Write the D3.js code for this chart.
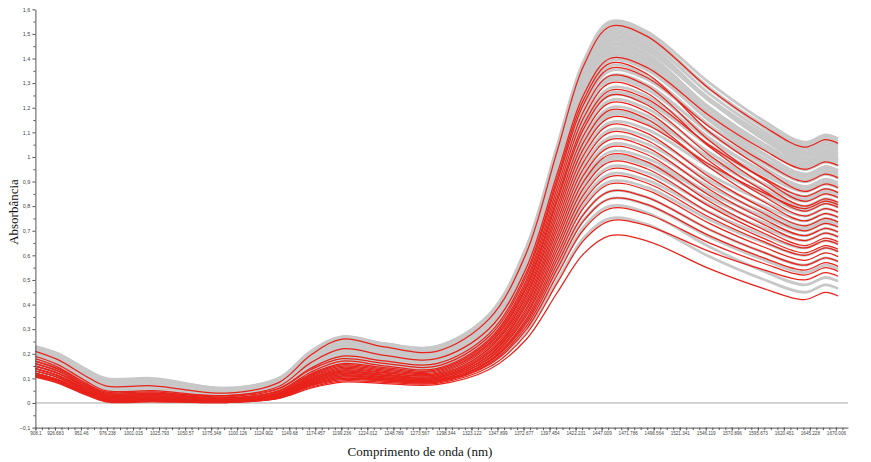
<!DOCTYPE html>
<html>
<head>
<meta charset="utf-8">
<script src="https://cdn.jsdelivr.net/npm/d3@7"></script>
<style>
  html, body { margin: 0; padding: 0; background: #fff; }
  svg { display: block; }
</style>
</head>
<body>
<div id="chart"></div>
<script>
const wavelengths = [908, 930, 955, 975, 1020, 1090, 1140, 1170, 1200, 1240, 1290, 1340, 1375, 1405, 1430, 1455, 1490, 1550, 1600, 1640, 1660, 1672];

// gray spectra (calibration set)
const graySpectra = [
  [.23,.20,.14,.10,.10,.06,.10,.21,.27,.24,.23,.36,.63,1.05,1.39,1.55,1.51,1.30,1.15,1.06,1.09,1.075],
  [.225,.193,.134,.095,.095,.058,.10,.205,.268,.242,.228,.359,.622,1.041,1.383,1.54,1.499,1.275,1.122,1.03,1.06,1.045],
  [.22,.19,.13,.09,.09,.055,.096,.20,.26,.234,.22,.35,.61,1.03,1.37,1.53,1.49,1.28,1.13,1.04,1.07,1.055],
  [.215,.184,.128,.09,.09,.052,.093,.194,.255,.229,.215,.346,.607,1.024,1.363,1.52,1.482,1.276,1.135,1.05,1.08,1.065],
  [.21,.18,.12,.085,.085,.05,.09,.19,.25,.224,.21,.34,.60,1.02,1.35,1.51,1.47,1.255,1.108,1.02,1.05,1.035],
  [.205,.174,.119,.082,.082,.048,.087,.186,.245,.219,.205,.335,.594,1.008,1.345,1.50,1.458,1.23,1.074,.98,1.01,.995],
  [.22,.189,.133,.095,.095,.06,.101,.204,.265,.239,.225,.35,.605,1.01,1.34,1.49,1.45,1.23,1.08,.99,1.02,1.005],
  [.195,.166,.113,.078,.078,.046,.084,.18,.238,.212,.198,.326,.583,.993,1.326,1.48,1.442,1.236,1.095,1.01,1.04,1.025],
  [.20,.17,.116,.08,.08,.05,.088,.183,.24,.214,.20,.327,.581,.987,1.318,1.47,1.432,1.226,1.085,1.00,1.03,1.015],
  [.20,.17,.116,.08,.08,.05,.088,.183,.24,.214,.20,.326,.578,.981,1.309,1.46,1.419,1.195,1.042,.95,.98,.965],
  [.21,.179,.123,.085,.085,.05,.09,.19,.25,.221,.205,.33,.579,.977,1.301,1.45,1.412,1.20,1.056,.97,1.00,.985],
  [.185,.156,.105,.07,.07,.043,.08,.173,.228,.203,.19,.315,.565,.965,1.29,1.44,1.402,1.196,1.055,.97,1.00,.985],
  [.19,.16,.106,.07,.07,.045,.082,.175,.23,.204,.19,.314,.562,.959,1.281,1.43,1.392,1.18,1.036,.95,.98,.965],
  [.18,.152,.102,.068,.068,.04,.076,.167,.222,.198,.185,.309,.556,.951,1.272,1.42,1.381,1.165,1.018,.93,.96,.945],
  [.20,.17,.116,.08,.08,.05,.089,.187,.245,.216,.20,.321,.563,.95,1.265,1.41,1.374,1.176,1.041,.96,.99,.975],
  [.175,.148,.098,.065,.065,.04,.075,.163,.215,.192,.18,.302,.546,.936,1.254,1.40,1.361,1.145,.998,.91,.94,.925],
  [.18,.151,.10,.065,.065,.04,.076,.166,.22,.194,.18,.301,.543,.93,1.245,1.39,1.353,1.151,1.013,.93,.96,.945],
  [.19,.161,.11,.075,.075,.045,.082,.175,.23,.201,.185,.304,.541,.92,1.228,1.37,1.332,1.126,.985,.90,.93,.915],
  [.17,.143,.093,.06,.06,.035,.07,.158,.21,.184,.17,.288,.524,.902,1.208,1.35,1.316,1.126,.997,.92,.95,.935],
  [.18,.153,.103,.07,.07,.04,.075,.163,.215,.189,.175,.29,.522,.891,1.191,1.33,1.294,1.096,.961,.88,.91,.895],
  [.17,.143,.093,.06,.06,.036,.07,.156,.208,.185,.172,.287,.516,.884,1.182,1.32,1.286,1.102,.976,.90,.93,.915],
  [.17,.143,.093,.06,.06,.035,.068,.151,.20,.177,.165,.28,.509,.875,1.173,1.31,1.274,1.076,.941,.86,.89,.875],
  [.16,.134,.087,.055,.055,.03,.063,.146,.195,.172,.16,.272,.496,.854,1.146,1.28,1.247,1.067,.944,.87,.90,.885],
  [.17,.143,.093,.06,.06,.035,.066,.144,.19,.167,.155,.266,.487,.84,1.127,1.26,1.226,1.042,.916,.84,.87,.855],
  [.165,.138,.09,.058,.058,.034,.067,.15,.20,.177,.165,.274,.491,.838,1.12,1.25,1.219,1.047,.93,.86,.89,.875],
  [.16,.133,.083,.05,.05,.03,.061,.139,.185,.162,.15,.258,.474,.82,1.10,1.23,1.197,1.017,.894,.82,.85,.835],
  [.15,.124,.077,.045,.045,.025,.056,.134,.18,.157,.145,.25,.462,.799,1.073,1.20,1.168,.992,.872,.80,.83,.815],
  [.155,.129,.082,.05,.05,.03,.062,.142,.19,.167,.155,.258,.463,.791,1.057,1.18,1.152,.998,.893,.83,.86,.845],
  [.16,.133,.083,.05,.05,.03,.059,.132,.175,.152,.14,.243,.449,.779,1.046,1.17,1.139,.967,.85,.78,.81,.795],
  [.15,.124,.077,.045,.045,.025,.054,.127,.17,.151,.14,.24,.44,.76,1.02,1.14,1.112,.958,.853,.79,.82,.805],
  [.14,.115,.07,.04,.04,.02,.049,.122,.165,.146,.135,.233,.428,.74,.993,1.11,1.082,.928,.823,.76,.79,.775],
  [.15,.124,.077,.045,.045,.025,.052,.12,.16,.141,.13,.225,.415,.719,.966,1.08,1.053,.903,.801,.74,.77,.755],
  [.14,.115,.07,.04,.04,.02,.047,.115,.155,.136,.125,.218,.403,.699,.939,1.05,1.024,.878,.779,.72,.75,.735],
  [.13,.106,.064,.035,.035,.02,.046,.111,.15,.131,.12,.21,.39,.678,.912,1.02,.994,.854,.758,.70,.73,.715],
  [.145,.12,.075,.045,.045,.025,.055,.13,.175,.156,.145,.231,.402,.675,.897,1.00,.977,.849,.762,.71,.74,.725],
  [.14,.115,.07,.04,.04,.02,.045,.108,.145,.129,.12,.207,.381,.659,.886,.99,.965,.829,.736,.68,.71,.695],
  [.13,.106,.064,.035,.035,.015,.04,.103,.14,.124,.115,.20,.369,.639,.859,.96,.936,.804,.714,.66,.69,.675],
  [.12,.098,.057,.03,.03,.015,.039,.099,.135,.119,.11,.192,.356,.618,.832,.93,.906,.774,.684,.63,.66,.645],
  [.13,.106,.064,.035,.035,.015,.038,.096,.13,.114,.105,.185,.344,.598,.805,.90,.876,.744,.654,.60,.63,.615],
  [.12,.098,.057,.03,.03,.01,.033,.091,.125,.109,.10,.176,.328,.571,.769,.86,.836,.704,.614,.56,.59,.575],
  [.125,.101,.059,.03,.03,.015,.04,.103,.14,.124,.115,.187,.33,.558,.744,.83,.806,.674,.584,.53,.56,.545],
  [.12,.096,.054,.025,.025,.01,.032,.087,.12,.107,.10,.17,.31,.534,.716,.80,.774,.634,.538,.48,.51,.495],
  [.11,.088,.047,.02,.02,.01,.03,.08,.11,.10,.095,.16,.29,.50,.671,.75,.726,.594,.504,.45,.48,.465]
];

// red spectra (validation set)
const redSpectra = [
  [.21,.175,.112,.07,.07,.04,.084,.194,.26,.228,.21,.342,.606,1.028,1.372,1.53,1.491,1.275,1.128,1.04,1.07,1.055],
  [.19,.155,.092,.05,.05,.03,.068,.163,.22,.194,.18,.302,.546,.936,1.254,1.40,1.364,1.166,1.031,.95,.98,.965],
  [.17,.139,.083,.045,.045,.025,.058,.141,.19,.171,.16,.282,.526,.916,1.234,1.38,1.338,1.10,.954,.86,.89,.875],
  [.18,.145,.082,.04,.04,.03,.06,.135,.18,.161,.15,.271,.513,.90,1.215,1.36,1.323,1.121,.983,.90,.93,.915],
  [.16,.13,.076,.04,.04,.02,.05,.125,.17,.151,.14,.259,.497,.878,1.187,1.33,1.289,1.065,.912,.82,.85,.835],
  [.17,.136,.076,.035,.035,.02,.048,.118,.16,.144,.135,.252,.485,.857,1.16,1.30,1.26,1.04,.89,.80,.83,.815],
  [.15,.121,.07,.035,.035,.02,.047,.115,.155,.139,.13,.244,.472,.837,1.133,1.27,1.236,1.046,.917,.84,.87,.855],
  [.16,.128,.069,.03,.03,.015,.042,.11,.15,.134,.125,.238,.463,.823,1.115,1.25,1.212,1.006,.865,.78,.81,.795],
  [.15,.12,.066,.03,.03,.015,.041,.106,.145,.129,.12,.23,.45,.802,1.088,1.22,1.183,.981,.843,.76,.79,.775],
  [.14,.111,.06,.025,.025,.01,.036,.101,.14,.124,.115,.223,.438,.782,1.061,1.19,1.154,.956,.821,.74,.77,.755],
  [.15,.12,.066,.03,.03,.015,.039,.099,.135,.122,.115,.22,.429,.763,1.035,1.16,1.13,.968,.857,.79,.82,.805],
  [.14,.111,.06,.025,.025,.01,.034,.094,.13,.117,.11,.212,.416,.742,1.008,1.13,1.097,.917,.794,.72,.75,.735],
  [.13,.103,.053,.02,.02,.01,.034,.094,.13,.114,.105,.205,.404,.722,.981,1.10,1.068,.892,.772,.70,.73,.715],
  [.14,.11,.056,.02,.02,.01,.033,.091,.125,.112,.105,.202,.395,.703,.954,1.07,1.039,.867,.75,.68,.71,.695],
  [.13,.103,.053,.02,.02,.008,.03,.086,.12,.107,.10,.194,.382,.683,.927,1.04,1.01,.842,.728,.66,.69,.675],
  [.12,.094,.047,.015,.015,.008,.03,.086,.12,.107,.10,.191,.373,.664,.901,1.01,.98,.818,.707,.64,.67,.655],
  [.13,.103,.053,.02,.02,.01,.031,.084,.115,.102,.095,.184,.361,.644,.874,.98,.952,.798,.693,.63,.66,.645],
  [.12,.094,.047,.015,.015,.005,.026,.079,.11,.10,.095,.18,.352,.625,.847,.95,.923,.773,.671,.61,.64,.625],
  [.12,.094,.047,.015,.015,.005,.026,.079,.11,.097,.09,.173,.339,.605,.82,.92,.894,.754,.658,.60,.63,.615],
  [.11,.085,.04,.01,.01,.005,.025,.075,.105,.095,.09,.17,.33,.586,.794,.89,.865,.729,.636,.58,.61,.595],
  [.12,.093,.044,.012,.012,.005,.024,.072,.10,.094,.09,.167,.321,.567,.768,.86,.836,.704,.614,.56,.59,.575],
  [.11,.085,.04,.01,.01,.003,.022,.071,.10,.09,.085,.16,.309,.547,.741,.83,.807,.679,.592,.54,.57,.555],
  [.115,.089,.042,.01,.01,.003,.021,.068,.095,.089,.085,.156,.297,.522,.705,.79,.768,.65,.569,.52,.55,.535],
  [.11,.085,.039,.008,.008,.002,.02,.064,.09,.084,.08,.146,.278,.489,.661,.74,.721,.615,.543,.50,.53,.515],
  [.105,.08,.035,.005,.005,.002,.019,.06,.085,.079,.075,.136,.257,.45,.607,.68,.659,.545,.467,.42,.45,.435]
];

const xTickValues = [908.1, 926.683, 951.46, 976.238, 1001.015, 1025.793, 1050.57, 1075.348, 1100.126, 1124.902, 1149.68, 1174.457, 1199.236, 1224.012, 1248.789, 1273.567, 1298.344, 1323.122, 1347.899, 1372.677, 1397.454, 1422.231, 1447.009, 1471.786, 1496.564, 1521.341, 1546.119, 1570.896, 1595.673, 1620.451, 1645.228, 1670.006];
const yTickValues = [-0.1, 0, 0.1, 0.2, 0.3, 0.4, 0.5, 0.6, 0.7, 0.8, 0.9, 1, 1.1, 1.2, 1.3, 1.4, 1.5, 1.6];
const minorStep = 6.1944;   // spacing of the unlabeled x ticks

const W = 871, H = 462;
const svg = d3.select('#chart').append('svg').attr('width', W).attr('height', H);

const x = d3.scaleLinear().domain([908.1, 1681.5]).range([35.4, 848]);
const y = d3.scaleLinear().domain([-0.1, 1.6]).range([427.6, 9.3]);

const ptBr = d3.formatLocale({ decimal: ',', thousands: '.', grouping: [3], currency: ['R$', ''] });
const fmtY = ptBr.format('.1~f');

// zero line
svg.append('line')
  .attr('x1', x.range()[0]).attr('x2', x.range()[1])
  .attr('y1', y(0)).attr('y2', y(0))
  .attr('stroke', '#a8a8a8').attr('stroke-width', 1);

const line = d3.line()
  .x((d, i) => x(wavelengths[i]))
  .y(d => y(d))
  .curve(d3.curveCatmullRom.alpha(0.5));

svg.append('g').selectAll('path').data(graySpectra).enter().append('path')
  .attr('d', line).attr('fill', 'none')
  .attr('stroke', '#c8c8c8').attr('stroke-width', 2.8);

svg.append('g').selectAll('path').data(redSpectra).enter().append('path')
  .attr('d', line).attr('fill', 'none')
  .attr('stroke', '#e8231b').attr('stroke-width', 1.25);

// y axis
const yAxis = svg.append('g').attr('transform', `translate(${x.range()[0]},0)`)
  .call(d3.axisLeft(y).tickValues(yTickValues).tickFormat(fmtY).tickSize(3).tickSizeOuter(0).tickPadding(2));
svg.append('g').attr('transform', `translate(${x.range()[0]},0)`)
  .call(d3.axisLeft(y).tickValues(yTickValues.slice(0, -1).map(v => v + 0.05)).tickFormat('').tickSize(2).tickSizeOuter(0))
  .select('.domain').remove();

// x axis
const minorTicks = d3.range(0, 125).map(k => 908.1 + k * minorStep);
const xAxis = svg.append('g').attr('transform', `translate(0,${y(-0.1)})`)
  .call(d3.axisBottom(x).tickValues(xTickValues).tickFormat(d => String(d)).tickSize(3).tickSizeOuter(0).tickPadding(1.5));
svg.append('g').attr('transform', `translate(0,${y(-0.1)})`)
  .call(d3.axisBottom(x).tickValues(minorTicks).tickFormat('').tickSize(2.5).tickSizeOuter(0))
  .select('.domain').remove();

svg.selectAll('.domain').attr('stroke', '#555');
svg.selectAll('.tick line').attr('stroke', '#555');
yAxis.selectAll('text').style('font-family', 'Liberation Sans, Arial, sans-serif').style('font-size', '5.5px').attr('fill', '#444');
xAxis.selectAll('text').style('font-family', 'Liberation Sans, Arial, sans-serif').style('font-size', '4.6px').attr('fill', '#444');

// axis titles
svg.append('text')
  .attr('transform', `translate(18,${212}) rotate(-90)`)
  .attr('text-anchor', 'middle')
  .style('font-family', 'Liberation Serif, Times New Roman, serif').style('font-size', '13px')
  .attr('fill', '#111')
  .text('Absorbância');

svg.append('text')
  .attr('x', 420).attr('y', 456)
  .attr('text-anchor', 'middle')
  .style('font-family', 'Liberation Serif, Times New Roman, serif').style('font-size', '13px')
  .attr('fill', '#111')
  .text('Comprimento de onda (nm)');
</script>
</body>
</html>
